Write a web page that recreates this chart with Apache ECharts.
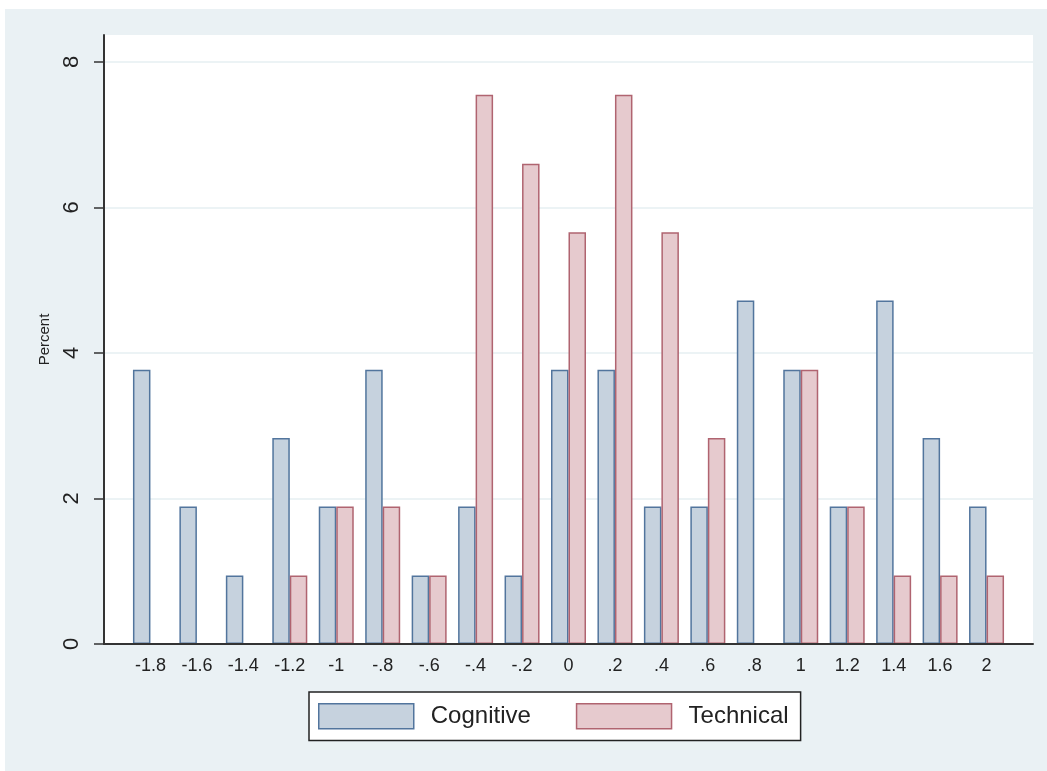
<!DOCTYPE html>
<html>
<head>
<meta charset="utf-8">
<script src="https://cdn.jsdelivr.net/npm/echarts@6/dist/echarts.min.js"></script>
<style>
html,body{margin:0;padding:0;background:#ffffff;width:1047px;height:771px;overflow:hidden;}
#chart{position:absolute;left:5px;top:9px;width:1042px;height:762px;}
</style>
</head>
<body>
<div id="chart"></div>
<script>
// Category labels (bins of the standardized score)
const categories = ['-1.8','-1.6','-1.4','-1.2','-1','-.8','-.6','-.4','-.2','0','.2','.4','.6','.8','1','1.2','1.4','1.6','2'];
// Percent values
const cognitive = [3.77, 1.89, 0.94, 2.83, 1.89, 3.77, 0.94, 1.89, 0.94, 3.77, 3.77, 1.89, 1.89, 4.72, 3.77, 1.89, 4.72, 2.83, 1.89];
const technical = [0, 0, 0, 0.94, 1.89, 1.89, 0.94, 7.55, 6.60, 5.66, 7.55, 5.66, 2.83, 0, 3.77, 1.89, 0.94, 0.94, 0.94];
const yTicks = [0, 2, 4, 6, 8];

const chart = echarts.init(document.getElementById('chart'));
const font = 'Liberation Sans, Arial, sans-serif';

const toPairs = arr => arr.map((v, i) => [i, v]);

chart.setOption({
  backgroundColor: '#eaf1f4',
  animation: false,
  textStyle: { fontFamily: font },
  grid: {
    left: 99, right: 14, top: 26, bottom: 127,
    show: true, backgroundColor: '#ffffff', borderWidth: 0
  },
  legend: {
    left: 304, top: 683,
    orient: 'horizontal',
    itemWidth: 95, itemHeight: 25, itemGap: 45,
    padding: [11, 12, 11, 9],
    backgroundColor: '#ffffff',
    borderColor: '#222222', borderWidth: 1.5,
    textStyle: { fontSize: 24, color: '#222222', fontFamily: font, padding: [0, 0, 0, 12] },
    data: [
      { name: 'Cognitive', icon: 'rect', itemStyle: { color: '#c6d2de', borderColor: '#52759d', borderWidth: 1.5 } },
      { name: 'Technical', icon: 'rect', itemStyle: { color: '#e6cace', borderColor: '#b06470', borderWidth: 1.5 } }
    ]
  },
  xAxis: {
    type: 'value',
    min: -1, max: 19, interval: 1,
    z: 5,
    axisLine: { show: true, onZero: false, lineStyle: { color: '#333333', width: 2 } },
    axisTick: { show: false },
    splitLine: { show: false },
    axisLabel: {
      fontSize: 18, color: '#222222', margin: 13, fontFamily: font,
      formatter: v => (v >= 0 && v < categories.length) ? categories[v] : ''
    }
  },
  yAxis: {
    type: 'value',
    min: 0, max: 8.37, interval: 2,
    name: 'Percent',
    nameLocation: 'middle',
    nameRotate: 90,
    nameGap: 52,
    nameTextStyle: { fontSize: 15, color: '#222222', fontFamily: font },
    axisLine: { show: true, onZero: false, lineStyle: { color: '#333333', width: 2 } },
    axisTick: { show: true, length: 10, customValues: yTicks, lineStyle: { color: '#333333', width: 1.5 } },
    splitLine: { show: true, lineStyle: { color: '#e6eff2', width: 1.5 } },
    axisLabel: {
      rotate: 90, fontSize: 22, color: '#222222', margin: 21, fontFamily: font,
      customValues: yTicks,
      formatter: v => String(v)
    }
  },
  series: [
    {
      name: 'Cognitive', type: 'bar',
      data: toPairs(cognitive),
      barWidth: 17.5, barGap: '0%',
      itemStyle: { color: '#c6d2de', borderColor: '#52759d', borderWidth: 1.5 }
    },
    {
      name: 'Technical', type: 'bar',
      data: toPairs(technical),
      barWidth: 17.5, barGap: '0%',
      itemStyle: { color: '#e6cace', borderColor: '#b06470', borderWidth: 1.5 }
    }
  ]
});
</script>
</body>
</html>
